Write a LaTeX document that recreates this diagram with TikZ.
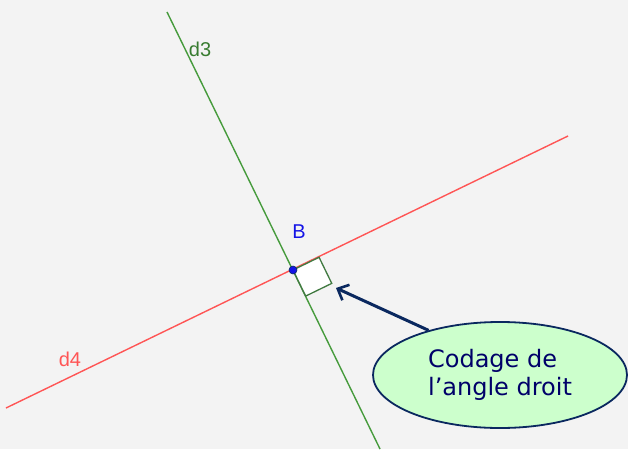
\documentclass[tikz,border=0pt]{standalone}
\usepackage{fontspec}
\setmainfont{DejaVu Sans}
\newfontfamily\labelfont{Liberation Sans}
\usepackage{tikz}
\usetikzlibrary{arrows.meta,calc,shapes.geometric}
\definecolor{fondcol}{RGB}{243,243,243}
\definecolor{droitevert}{RGB}{70,155,60}
\definecolor{droiterouge}{RGB}{255,85,85}
\definecolor{pointbleu}{RGB}{20,20,230}
\definecolor{bullecol}{RGB}{204,255,204}
\definecolor{marine}{RGB}{10,40,95}
\definecolor{textemarine}{RGB}{0,0,105}
\tikzset{
  geo line/.style={line width=1.4pt},
  geo label/.style={font=\labelfont\fontsize{20}{22}\selectfont,inner sep=0pt},
  angle mark/.style={draw=black!55!green!50!gray,fill=white,line width=1.3pt},
  geo point/.style={circle,fill=pointbleu,draw=marine,line width=0.6pt,minimum size=8pt,inner sep=0pt},
  bulle/.style={ellipse,draw=marine,fill=bullecol,line width=1.8pt,minimum width=254pt,minimum height=106pt,
    inner sep=0pt,align=left,text=textemarine,font=\fontsize{24}{28}\selectfont},
  bulle arrow/.style={-{Straight Barb[length=9pt,width=17pt,line width=2.6pt]},draw=marine,line width=3pt}
}

\begin{document}
\begin{tikzpicture}[x=1pt,y=-1pt]
  \fill[fondcol] (0,0) rectangle (628,449);
  \useasboundingbox (0,0) rectangle (628,449);
  \clip (0,0) rectangle (628,449);
  \coordinate (B) at (293,270);
  \coordinate (d3a) at (167,12);
  \coordinate (d3b) at (380,449);
  \coordinate (d4a) at (6,408);
  \coordinate (d4b) at (568,136);
  \draw[geo line,droitevert] (d3a) -- (d3b);
  \draw[geo line,droiterouge] (d4a) -- (d4b);
  % codage de l'angle droit
  \coordinate (u) at ($(B)!29pt!(d4b)$);
  \coordinate (v) at ($(B)!29pt!(d3b)$);
  \coordinate (coin) at ($(u)+(v)-(B)$);
  \draw[angle mark] (B) -- (u) -- (coin) -- (v) -- cycle;
  \node[geo point] (ptB) at (B) {};
  \node[geo label,text=pointbleu] (labB) at (299,232) {B};
  \node[geo label,text=droitevert!80!black] (labd3) at (200,49) {d3};
  \node[geo label,text=droiterouge] (labd4) at (70,359) {d4};
  \node[bulle] (explic) at (500,375) {Codage de\\l’angle droit};
  \coordinate (cible) at (336,288);
  \draw[bulle arrow] (explic.148) -- (cible);
\end{tikzpicture}
\end{document}
